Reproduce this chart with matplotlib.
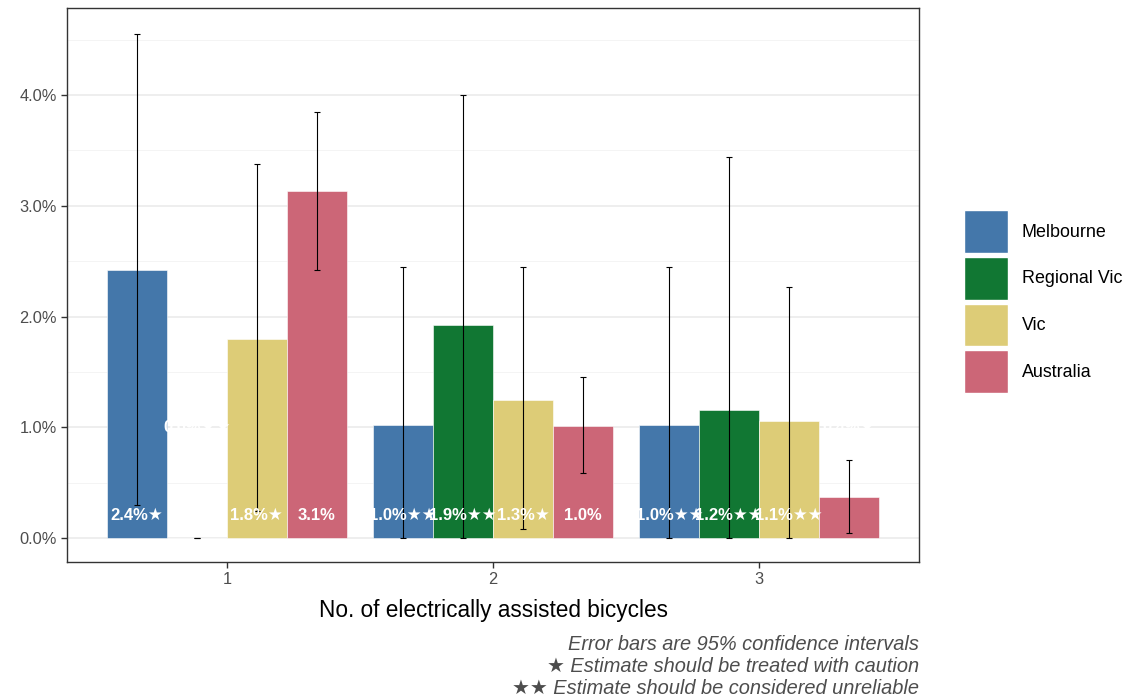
import matplotlib
matplotlib.use("Agg")
import matplotlib.pyplot as plt
import numpy as np
from matplotlib.patches import Patch

plt.rcParams['font.family'] = ['Liberation Sans', 'DejaVu Sans']

groups = ["1", "2", "3"]
series = ["Melbourne", "Regional Vic", "Vic", "Australia"]
colors = ["#4477AA", "#117733", "#DDCC77", "#CC6677"]

values = {
    "Melbourne":    [2.42, 1.02, 1.02],
    "Regional Vic": [0.00, 1.92, 1.16],
    "Vic":          [1.80, 1.25, 1.06],
    "Australia":    [3.13, 1.01, 0.37],
}
lower = {
    "Melbourne":    [0.30, 0.00, 0.00],
    "Regional Vic": [0.00, 0.00, 0.00],
    "Vic":          [0.24, 0.08, 0.00],
    "Australia":    [2.42, 0.59, 0.045],
}
upper = {
    "Melbourne":    [4.55, 2.45, 2.45],
    "Regional Vic": [0.00, 4.00, 3.44],
    "Vic":          [3.38, 2.45, 2.27],
    "Australia":    [3.85, 1.45, 0.70],
}
labels = {
    "Melbourne":    ["2.4%★", "1.0%★★", "1.0%★★"],
    "Regional Vic": ["0.0%★★", "1.9%★★", "1.2%★★"],
    "Vic":          ["1.8%★", "1.3%★", "1.1%★★"],
    "Australia":    ["3.1%", "1.0%", "0.4%★"],
}
label_y = {
    "Melbourne":    [0.2, 0.2, 0.2],
    "Regional Vic": [1.0, 0.2, 0.2],
    "Vic":          [0.2, 0.2, 0.2],
    "Australia":    [0.2, 0.2, 1.0],
}
yticks = [0, 1, 2, 3, 4]
ytick_labels = ["0.0%", "1.0%", "2.0%", "3.0%", "4.0%"]
xlabel = "No. of electrically assisted bicycles"
caption = ["Error bars are 95% confidence intervals",
           "★ Estimate should be treated with caution",
           "★★ Estimate should be considered unreliable"]

fig = plt.figure(figsize=(11.28, 7), dpi=100)
ax = fig.add_axes([67/1128, 138/700, (919-67)/1128, (562-8)/700])

x = np.arange(1, len(groups) + 1)
total = 0.9
w = total / len(series)
for i, s in enumerate(series):
    xs = x - total/2 + w/2 + i*w
    v = np.array(values[s])
    ax.bar(xs, v, width=w, color=colors[i], edgecolor="white", linewidth=0.4, zorder=2)
    lo = v - np.array(lower[s])
    hi = np.array(upper[s]) - v
    ax.errorbar(xs, v, yerr=[lo, hi], fmt="none", ecolor="black", elinewidth=0.8,
                capsize=2.0, capthick=0.8, zorder=3)
    for xx, t, ly in zip(xs, labels[s], label_y[s]):
        ax.text(xx, ly, t, ha="center", va="center", color="white",
                fontsize=12, fontweight="bold", zorder=4)

ax.set_xlim(0.4, 3.6)
ax.set_ylim(-0.217, 4.786)
ax.set_yticks(yticks)
ax.set_yticklabels(ytick_labels)
ax.set_yticks([0.5, 1.5, 2.5, 3.5, 4.5], minor=True)
ax.set_xticks(x)
ax.set_xticklabels(groups)
ax.grid(axis="y", which="major", color="#EBEBEB", linewidth=1.2, zorder=0)
ax.grid(axis="y", which="minor", color="#F2F2F2", linewidth=0.6, zorder=0)
ax.set_axisbelow(True)
ax.tick_params(axis="both", which="major", labelsize=11.8, labelcolor="#4D4D4D",
               color="#333333", length=4, width=1)
ax.tick_params(axis="y", which="minor", length=0)
for sp in ax.spines.values():
    sp.set_color("#333333")
    sp.set_linewidth(1)
ax.set_xlabel(xlabel, fontsize=16.3, color="black", labelpad=8)

handles = [Patch(facecolor=c, edgecolor="white", label=s) for c, s in zip(colors, series)]
fig.legend(handles=handles, loc="center left", bbox_to_anchor=(957/1128, 0.569),
           frameon=False, fontsize=12.9, handlelength=2.42, handleheight=3.3,
           labelspacing=0.22, handletextpad=0.78, borderaxespad=0)

for k, line in enumerate(caption):
    fig.text(919/1128, 1 - (644 + 22*k)/700, line, ha="right", va="center",
             fontsize=14.4, style="italic", color="#4D4D4D")

fig.savefig("out.png", dpi=100)
